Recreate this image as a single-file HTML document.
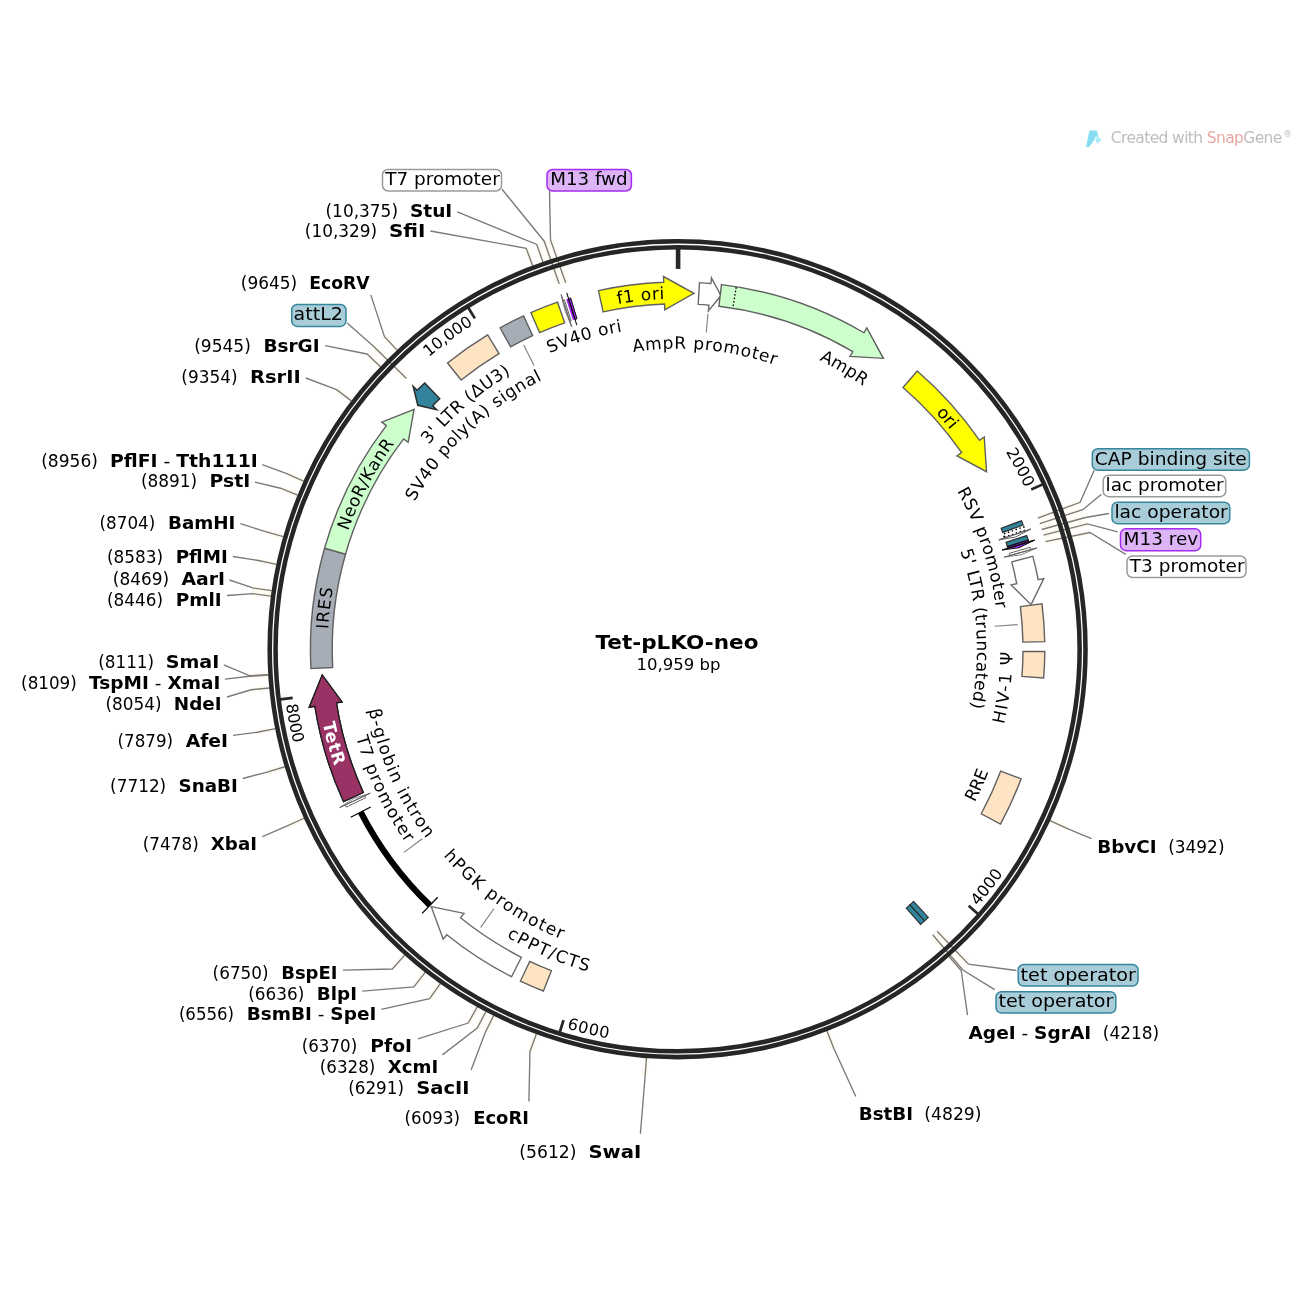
<!DOCTYPE html>
<html lang="en"><head><meta charset="utf-8"><title>Tet-pLKO-neo</title>
<style>html,body{margin:0;padding:0;background:#fff;}svg{display:block;}text{font-family:'DejaVu Sans', Verdana, 'Liberation Sans', sans-serif;}</style></head><body>
<svg width="1300" height="1300" viewBox="0 0 1300 1300">
<rect width="1300" height="1300" fill="#fff"/>
<polyline points="542.87,261.97 536.79,244.50" fill="none" stroke="#fffbf0" stroke-width="5.5" stroke-linecap="butt"/>
<polyline points="532.71,265.66 526.17,248.35" fill="none" stroke="#fffbf0" stroke-width="5.5" stroke-linecap="butt"/>
<polyline points="397.12,350.15 384.47,336.66" fill="none" stroke="#fffbf0" stroke-width="5.5" stroke-linecap="butt"/>
<polyline points="380.45,366.71 367.04,353.97" fill="none" stroke="#fffbf0" stroke-width="5.5" stroke-linecap="butt"/>
<polyline points="351.35,400.88 336.63,389.68" fill="none" stroke="#fffbf0" stroke-width="5.5" stroke-linecap="butt"/>
<polyline points="303.64,481.12 286.76,473.53" fill="none" stroke="#fffbf0" stroke-width="5.5" stroke-linecap="butt"/>
<polyline points="297.63,495.17 280.49,488.22" fill="none" stroke="#fffbf0" stroke-width="5.5" stroke-linecap="butt"/>
<polyline points="283.33,536.71 265.54,531.64" fill="none" stroke="#fffbf0" stroke-width="5.5" stroke-linecap="butt"/>
<polyline points="276.48,564.31 258.38,560.48" fill="none" stroke="#fffbf0" stroke-width="5.5" stroke-linecap="butt"/>
<polyline points="271.80,590.69 253.49,588.05" fill="none" stroke="#fffbf0" stroke-width="5.5" stroke-linecap="butt"/>
<polyline points="271.06,596.05 252.72,593.65" fill="none" stroke="#fffbf0" stroke-width="5.5" stroke-linecap="butt"/>
<polyline points="268.39,674.63 249.93,675.78" fill="none" stroke="#fffbf0" stroke-width="5.5" stroke-linecap="butt"/>
<polyline points="268.42,675.10 249.96,676.27" fill="none" stroke="#fffbf0" stroke-width="5.5" stroke-linecap="butt"/>
<polyline points="269.44,687.99 251.02,689.74" fill="none" stroke="#fffbf0" stroke-width="5.5" stroke-linecap="butt"/>
<polyline points="275.38,728.68 257.23,732.26" fill="none" stroke="#fffbf0" stroke-width="5.5" stroke-linecap="butt"/>
<polyline points="284.82,766.76 267.09,772.07" fill="none" stroke="#fffbf0" stroke-width="5.5" stroke-linecap="butt"/>
<polyline points="304.07,818.25 287.22,825.87" fill="none" stroke="#fffbf0" stroke-width="5.5" stroke-linecap="butt"/>
<polyline points="404.67,955.15 392.35,968.96" fill="none" stroke="#fffbf0" stroke-width="5.5" stroke-linecap="butt"/>
<polyline points="425.23,972.33 413.84,986.91" fill="none" stroke="#fffbf0" stroke-width="5.5" stroke-linecap="butt"/>
<polyline points="440.31,983.56 429.61,998.64" fill="none" stroke="#fffbf0" stroke-width="5.5" stroke-linecap="butt"/>
<polyline points="477.25,1006.91 468.21,1023.05" fill="none" stroke="#fffbf0" stroke-width="5.5" stroke-linecap="butt"/>
<polyline points="485.92,1011.63 477.27,1027.99" fill="none" stroke="#fffbf0" stroke-width="5.5" stroke-linecap="butt"/>
<polyline points="493.65,1015.62 485.35,1032.15" fill="none" stroke="#fffbf0" stroke-width="5.5" stroke-linecap="butt"/>
<polyline points="536.34,1034.10 529.97,1051.46" fill="none" stroke="#fffbf0" stroke-width="5.5" stroke-linecap="butt"/>
<polyline points="646.48,1058.02 645.08,1076.46" fill="none" stroke="#fffbf0" stroke-width="5.5" stroke-linecap="butt"/>
<polyline points="1050.05,820.60 1066.86,828.33" fill="none" stroke="#fffbf0" stroke-width="5.5" stroke-linecap="butt"/>
<polyline points="948.95,956.56 961.20,970.43" fill="none" stroke="#fffbf0" stroke-width="5.5" stroke-linecap="butt"/>
<polyline points="826.99,1031.01 833.73,1048.24" fill="none" stroke="#fffbf0" stroke-width="5.5" stroke-linecap="butt"/>
<polyline points="559.20,283.80 544.20,241.20" fill="none" stroke="#fffbf0" stroke-width="5.5" stroke-linecap="butt"/>
<polyline points="565.70,282.70 550.50,240.00" fill="none" stroke="#fffbf0" stroke-width="5.5" stroke-linecap="butt"/>
<polyline points="406.50,378.50 374.00,346.80" fill="none" stroke="#fffbf0" stroke-width="5.5" stroke-linecap="butt"/>
<polyline points="1037.78,518.10 1080.13,502.29" fill="none" stroke="#fffbf0" stroke-width="5.5" stroke-linecap="butt"/>
<polyline points="1039.76,523.65 1082.75,509.69" fill="none" stroke="#fffbf0" stroke-width="5.5" stroke-linecap="butt"/>
<polyline points="1041.72,529.48 1085.36,517.50" fill="none" stroke="#fffbf0" stroke-width="5.5" stroke-linecap="butt"/>
<polyline points="1043.54,535.15 1087.38,523.92" fill="none" stroke="#fffbf0" stroke-width="5.5" stroke-linecap="butt"/>
<polyline points="1045.49,541.62 1089.91,532.53" fill="none" stroke="#fffbf0" stroke-width="5.5" stroke-linecap="butt"/>
<polyline points="937.10,931.30 968.50,964.20" fill="none" stroke="#fffbf0" stroke-width="5.5" stroke-linecap="butt"/>
<polyline points="932.70,934.70 962.80,970.00" fill="none" stroke="#fffbf0" stroke-width="5.5" stroke-linecap="butt"/>
<polyline points="542.87,261.97 536.79,244.50 457.30,211.80" fill="none" stroke="#7a7a7a" stroke-width="1.35" stroke-linejoin="miter"/>
<polyline points="532.71,265.66 526.17,248.35 430.40,231.00" fill="none" stroke="#7a7a7a" stroke-width="1.35" stroke-linejoin="miter"/>
<polyline points="397.12,350.15 384.47,336.66 370.80,294.90" fill="none" stroke="#7a7a7a" stroke-width="1.35" stroke-linejoin="miter"/>
<polyline points="380.45,366.71 367.04,353.97 325.10,345.70" fill="none" stroke="#7a7a7a" stroke-width="1.35" stroke-linejoin="miter"/>
<polyline points="351.35,400.88 336.63,389.68 305.70,378.00" fill="none" stroke="#7a7a7a" stroke-width="1.35" stroke-linejoin="miter"/>
<polyline points="303.64,481.12 286.76,473.53 262.30,464.60" fill="none" stroke="#7a7a7a" stroke-width="1.35" stroke-linejoin="miter"/>
<polyline points="297.63,495.17 280.49,488.22 254.90,482.20" fill="none" stroke="#7a7a7a" stroke-width="1.35" stroke-linejoin="miter"/>
<polyline points="283.33,536.71 265.54,531.64 240.40,523.70" fill="none" stroke="#7a7a7a" stroke-width="1.35" stroke-linejoin="miter"/>
<polyline points="276.48,564.31 258.38,560.48 232.80,556.50" fill="none" stroke="#7a7a7a" stroke-width="1.35" stroke-linejoin="miter"/>
<polyline points="271.80,590.69 253.49,588.05 229.50,580.00" fill="none" stroke="#7a7a7a" stroke-width="1.35" stroke-linejoin="miter"/>
<polyline points="271.06,596.05 252.72,593.65 227.00,595.50" fill="none" stroke="#7a7a7a" stroke-width="1.35" stroke-linejoin="miter"/>
<polyline points="268.39,674.63 249.93,675.78 223.80,664.90" fill="none" stroke="#7a7a7a" stroke-width="1.35" stroke-linejoin="miter"/>
<polyline points="268.42,675.10 249.96,676.27 224.90,679.20" fill="none" stroke="#7a7a7a" stroke-width="1.35" stroke-linejoin="miter"/>
<polyline points="269.44,687.99 251.02,689.74 227.00,697.00" fill="none" stroke="#7a7a7a" stroke-width="1.35" stroke-linejoin="miter"/>
<polyline points="275.38,728.68 257.23,732.26 233.10,735.30" fill="none" stroke="#7a7a7a" stroke-width="1.35" stroke-linejoin="miter"/>
<polyline points="284.82,766.76 267.09,772.07 242.80,778.50" fill="none" stroke="#7a7a7a" stroke-width="1.35" stroke-linejoin="miter"/>
<polyline points="304.07,818.25 287.22,825.87 262.40,836.60" fill="none" stroke="#7a7a7a" stroke-width="1.35" stroke-linejoin="miter"/>
<polyline points="404.67,955.15 392.35,968.96 343.00,970.10" fill="none" stroke="#7a7a7a" stroke-width="1.35" stroke-linejoin="miter"/>
<polyline points="425.23,972.33 413.84,986.91 362.30,991.20" fill="none" stroke="#7a7a7a" stroke-width="1.35" stroke-linejoin="miter"/>
<polyline points="440.31,983.56 429.61,998.64 381.30,1009.30" fill="none" stroke="#7a7a7a" stroke-width="1.35" stroke-linejoin="miter"/>
<polyline points="477.25,1006.91 468.21,1023.05 417.90,1038.80" fill="none" stroke="#7a7a7a" stroke-width="1.35" stroke-linejoin="miter"/>
<polyline points="485.92,1011.63 477.27,1027.99 442.40,1054.90" fill="none" stroke="#7a7a7a" stroke-width="1.35" stroke-linejoin="miter"/>
<polyline points="493.65,1015.62 485.35,1032.15 471.10,1070.10" fill="none" stroke="#7a7a7a" stroke-width="1.35" stroke-linejoin="miter"/>
<polyline points="536.34,1034.10 529.97,1051.46 528.90,1101.40" fill="none" stroke="#7a7a7a" stroke-width="1.35" stroke-linejoin="miter"/>
<polyline points="646.48,1058.02 645.08,1076.46 640.40,1133.80" fill="none" stroke="#7a7a7a" stroke-width="1.35" stroke-linejoin="miter"/>
<polyline points="1050.05,820.60 1066.86,828.33 1091.40,838.70" fill="none" stroke="#7a7a7a" stroke-width="1.35" stroke-linejoin="miter"/>
<polyline points="948.95,956.56 961.20,970.43 967.50,1015.20" fill="none" stroke="#7a7a7a" stroke-width="1.35" stroke-linejoin="miter"/>
<polyline points="826.99,1031.01 833.73,1048.24 855.80,1096.50" fill="none" stroke="#7a7a7a" stroke-width="1.35" stroke-linejoin="miter"/>
<polyline points="559.20,283.80 544.20,241.20 502.00,189.20" fill="none" stroke="#7a7a7a" stroke-width="1.35" stroke-linejoin="miter"/>
<polyline points="565.70,282.70 550.50,240.00 549.50,191.10" fill="none" stroke="#7a7a7a" stroke-width="1.35" stroke-linejoin="miter"/>
<polyline points="406.50,378.50 374.00,346.80 347.20,323.10" fill="none" stroke="#7a7a7a" stroke-width="1.35" stroke-linejoin="miter"/>
<polyline points="1037.78,518.10 1080.13,502.29 1094.20,470.30" fill="none" stroke="#7a7a7a" stroke-width="1.35" stroke-linejoin="miter"/>
<polyline points="1039.76,523.65 1082.75,509.69 1101.50,494.30" fill="none" stroke="#7a7a7a" stroke-width="1.35" stroke-linejoin="miter"/>
<polyline points="1041.72,529.48 1085.36,517.50 1108.90,513.50" fill="none" stroke="#7a7a7a" stroke-width="1.35" stroke-linejoin="miter"/>
<polyline points="1043.54,535.15 1087.38,523.92 1117.70,531.90" fill="none" stroke="#7a7a7a" stroke-width="1.35" stroke-linejoin="miter"/>
<polyline points="1045.49,541.62 1089.91,532.53 1125.80,554.30" fill="none" stroke="#7a7a7a" stroke-width="1.35" stroke-linejoin="miter"/>
<polyline points="937.10,931.30 968.50,964.20 1016.40,970.50" fill="none" stroke="#7a7a7a" stroke-width="1.35" stroke-linejoin="miter"/>
<polyline points="932.70,934.70 962.80,970.00 994.70,989.60" fill="none" stroke="#7a7a7a" stroke-width="1.35" stroke-linejoin="miter"/>
<circle cx="677.6" cy="649.2" r="407.9" fill="none" stroke="#262626" stroke-width="4.55"/>
<circle cx="677.6" cy="649.2" r="402.05" fill="none" stroke="#262626" stroke-width="4.55"/>
<line x1="678.10" y1="248.70" x2="678.10" y2="268.90" stroke="#262626" stroke-width="4.6"/>
<line x1="1042.62" y1="484.38" x2="1031.22" y2="489.53" stroke="#262626" stroke-width="2.7"/>
<line x1="978.02" y1="914.05" x2="968.65" y2="905.78" stroke="#262626" stroke-width="2.7"/>
<line x1="559.85" y1="1032.00" x2="563.52" y2="1020.05" stroke="#262626" stroke-width="2.7"/>
<line x1="280.26" y1="699.41" x2="292.66" y2="697.84" stroke="#262626" stroke-width="2.7"/>
<line x1="468.32" y1="307.73" x2="474.85" y2="318.39" stroke="#262626" stroke-width="2.7"/>
<path id="tp1" d="M1005.72,451.65 A383.00,383.00 0 0 1 1025.00,487.94" fill="none" stroke="none"/>
<text font-size="16" fill="#000" font-weight="normal" textLength="41.11" lengthAdjust="spacing"><textPath href="#tp1" textLength="41.11" lengthAdjust="spacing">2000</textPath></text>
<path id="tp2" d="M428.73,357.29 A383.60,383.60 0 0 1 473.19,324.60" fill="none" stroke="none"/>
<text font-size="16" fill="#000" font-weight="normal" textLength="55.23" lengthAdjust="spacing"><textPath href="#tp2" textLength="55.23" lengthAdjust="spacing">10,000</textPath></text>
<path id="tp3" d="M977.89,906.12 A395.20,395.20 0 0 0 1003.10,873.33" fill="none" stroke="none"/>
<text font-size="16" fill="#000" font-weight="normal" textLength="41.39" lengthAdjust="spacing"><textPath href="#tp3" textLength="41.39" lengthAdjust="spacing">4000</textPath></text>
<path id="tp4" d="M566.68,1028.52 A395.20,395.20 0 0 0 608.30,1038.28" fill="none" stroke="none"/>
<text font-size="16" fill="#000" font-weight="normal" textLength="42.76" lengthAdjust="spacing"><textPath href="#tp4" textLength="42.76" lengthAdjust="spacing">6000</textPath></text>
<path id="tp5" d="M286.10,704.57 A395.40,395.40 0 0 0 293.61,743.52" fill="none" stroke="none"/>
<text font-size="16" fill="#000" font-weight="normal" textLength="39.68" lengthAdjust="spacing"><textPath href="#tp5" textLength="39.68" lengthAdjust="spacing">8000</textPath></text>
<path d="M603.14,311.92 L598.44,290.63 A367.20,367.20 0 0 1 663.73,282.26 L663.52,276.57 L693.94,293.27 L664.77,309.74 L664.56,304.05 A345.40,345.40 0 0 0 603.14,311.92 Z" fill="#ffff00" stroke="#606060" stroke-width="1.4" stroke-linejoin="miter" stroke-miterlimit="4" />
<path d="M698.18,304.41 L699.48,282.65 A367.20,367.20 0 0 1 710.92,283.52 L711.44,277.84 L721.00,295.55 L708.43,310.90 L708.94,305.23 A345.40,345.40 0 0 0 698.18,304.41 Z" fill="#fff" stroke="#6a6a6a" stroke-width="1.4" stroke-linejoin="miter" stroke-miterlimit="4" />
<path d="M718.89,306.28 L721.50,284.63 A367.20,367.20 0 0 1 863.90,332.77 L866.80,327.86 L883.39,358.34 L849.95,356.47 L852.84,351.56 A345.40,345.40 0 0 0 718.89,306.28 Z" fill="#ccffcc" stroke="#606060" stroke-width="1.4" stroke-linejoin="miter" stroke-miterlimit="4" />
<line x1="736.22" y1="287.22" x2="732.89" y2="307.75" stroke="#000" stroke-width="1.3" stroke-dasharray="1.6,1.9"/>
<path d="M902.99,387.47 L917.21,370.95 A367.20,367.20 0 0 1 979.57,440.28 L984.26,437.04 L986.52,471.67 L956.96,455.93 L961.65,452.68 A345.40,345.40 0 0 0 902.99,387.47 Z" fill="#ffff00" stroke="#606060" stroke-width="1.4" stroke-linejoin="miter" stroke-miterlimit="4" />
<path d="M1020.36,606.58 L1041.99,603.89 A367.20,367.20 0 0 1 1044.72,641.67 L1022.93,642.12 A345.40,345.40 0 0 0 1020.36,606.58 Z" fill="#ffe4c4" stroke="#606060" stroke-width="1.4" stroke-linejoin="miter" />
<path d="M1022.99,651.43 L1044.79,651.57 A367.20,367.20 0 0 1 1043.66,678.07 L1021.93,676.35 A345.40,345.40 0 0 0 1022.99,651.43 Z" fill="#ffe4c4" stroke="#606060" stroke-width="1.4" stroke-linejoin="miter" />
<path d="M1000.76,771.12 L1021.16,778.82 A367.20,367.20 0 0 1 1000.44,824.17 L981.27,813.78 A345.40,345.40 0 0 0 1000.76,771.12 Z" fill="#ffe4c4" stroke="#606060" stroke-width="1.4" stroke-linejoin="miter" />
<path d="M551.38,970.71 L543.41,991.00 A367.20,367.20 0 0 1 520.42,981.06 L529.75,961.36 A345.40,345.40 0 0 0 551.38,970.71 Z" fill="#ffe4c4" stroke="#606060" stroke-width="1.4" stroke-linejoin="miter" />
<path d="M521.40,957.26 L511.54,976.70 A367.20,367.20 0 0 1 446.78,934.78 L443.19,939.21 L431.26,906.62 L464.06,913.39 L460.48,917.83 A345.40,345.40 0 0 0 521.40,957.26 Z" fill="#fff" stroke="#6a6a6a" stroke-width="1.4" stroke-linejoin="miter" stroke-miterlimit="4" />
<path d="M1011.78,561.89 L1032.87,556.37 A367.20,367.20 0 0 1 1038.16,579.67 L1043.75,578.59 L1031.10,604.63 L1011.16,584.88 L1016.75,583.80 A345.40,345.40 0 0 0 1011.78,561.89 Z" fill="#fff" stroke="#6a6a6a" stroke-width="1.4" stroke-linejoin="miter" stroke-miterlimit="4" />
<path d="M332.68,667.46 L310.91,668.61 A367.20,367.20 0 0 1 324.49,548.45 L345.45,554.44 A345.40,345.40 0 0 0 332.68,667.46 Z" fill="#a7adb6" stroke="#606060" stroke-width="1.4" stroke-linejoin="miter" />
<path d="M345.56,554.06 L324.61,548.05 A367.20,367.20 0 0 1 386.32,425.61 L381.80,422.14 L414.08,409.40 L408.13,442.36 L403.61,438.89 A345.40,345.40 0 0 0 345.56,554.06 Z" fill="#ccffcc" stroke="#606060" stroke-width="1.4" stroke-linejoin="miter" stroke-miterlimit="4" />
<path d="M363.33,792.51 L343.50,801.56 A367.20,367.20 0 0 1 314.86,706.26 L309.23,707.14 L322.23,674.97 L342.03,701.99 L336.40,702.87 A345.40,345.40 0 0 0 363.33,792.51 Z" fill="#993366" stroke="#1c1c1c" stroke-width="1.3" stroke-linejoin="miter" stroke-miterlimit="4" />
<path d="M439.73,398.76 L424.72,382.96 A367.20,367.20 0 0 0 417.19,390.31 L413.15,386.30 L417.82,405.35 L436.69,409.70 L432.65,405.68 A345.40,345.40 0 0 1 439.73,398.76 Z" fill="#31849b" stroke="#2b2b2b" stroke-width="1.5" stroke-linejoin="miter" stroke-miterlimit="4" />
<path d="M461.19,380.00 L447.53,363.01 A367.20,367.20 0 0 1 487.70,334.92 L498.98,353.57 A345.40,345.40 0 0 0 461.19,380.00 Z" fill="#ffe4c4" stroke="#606060" stroke-width="1.4" stroke-linejoin="miter" />
<path d="M510.63,346.84 L500.10,327.75 A367.20,367.20 0 0 1 523.57,315.87 L532.71,335.66 A345.40,345.40 0 0 0 510.63,346.84 Z" fill="#a7adb6" stroke="#606060" stroke-width="1.4" stroke-linejoin="miter" />
<path d="M539.58,332.58 L530.87,312.59 A367.20,367.20 0 0 1 557.53,302.18 L564.66,322.79 A345.40,345.40 0 0 0 539.58,332.58 Z" fill="#ffff00" stroke="#606060" stroke-width="1.4" stroke-linejoin="miter" />
<path d="M429.94,905.35 A356.30,356.30 0 0 1 360.72,812.11" fill="none" stroke="#000" stroke-width="6.2"/>
<line x1="437.72" y1="897.30" x2="422.15" y2="913.40" stroke="#000" stroke-width="1.3"/>
<line x1="370.68" y1="806.99" x2="350.76" y2="817.23" stroke="#000" stroke-width="1.3"/>
<path d="M1001.15,528.29 L1021.57,520.66 A367.20,367.20 0 0 1 1023.16,525.01 L1002.65,532.39 A345.40,345.40 0 0 0 1001.15,528.29 Z" fill="#31849b" stroke="#2b2b2b" stroke-width="1.2" stroke-linejoin="miter" />
<path d="M1004.35,537.24 L1003.25,534.06 L1023.80,526.80 L1024.98,530.18 Z" fill="#fff" stroke="#000" stroke-width="1.5" stroke-dasharray="1.5,2.6"/>
<path d="M1030.93,529.04 L1015.77,537.00 L998.93,539.92 Z" fill="#fff" stroke="#666" stroke-width="1.0"/>
<line x1="998.93" y1="539.92" x2="1030.93" y2="529.04" stroke="#666" stroke-width="1.2"/>
<path d="M1006.05,542.31 L1026.78,535.57 A367.20,367.20 0 0 1 1028.18,539.98 L1007.37,546.47 A345.40,345.40 0 0 0 1006.05,542.31 Z" fill="#31849b" stroke="#2b2b2b" stroke-width="1.2" stroke-linejoin="miter" />
<path d="M1034.51,540.14 L1019.14,547.72 L1002.18,550.02 Z" fill="#a020f0" stroke="#111" stroke-width="0.96" stroke-linejoin="round"/>
<path d="M1007.92,548.26 L1007.43,546.66 L1028.24,540.18 L1028.77,541.89 Z" fill="#a020f0" stroke="#111" stroke-width="1.2"/>
<line x1="1002.18" y1="550.02" x2="1034.51" y2="540.14" stroke="#111" stroke-width="1.2"/>
<path d="M1036.80,547.94 L1021.16,554.79 L1004.27,557.11 Z" fill="#fff" stroke="#666" stroke-width="0.8" stroke-linejoin="round"/>
<path d="M1010.04,555.48 L1009.42,553.29 L1030.36,547.24 L1031.03,549.57 Z" fill="#fff" stroke="#666" stroke-width="1.0"/>
<line x1="1004.27" y1="557.11" x2="1036.80" y2="547.94" stroke="#666" stroke-width="1.0"/>
<path d="M913.53,901.47 L928.42,917.39 A367.20,367.20 0 0 1 924.55,920.96 L909.89,904.83 A345.40,345.40 0 0 0 913.53,901.47 Z" fill="#31849b" stroke="#2b2b2b" stroke-width="1.1" stroke-linejoin="miter" />
<path d="M909.89,904.83 L924.55,920.96 A367.20,367.20 0 0 1 920.63,924.47 L906.20,908.13 A345.40,345.40 0 0 0 909.89,904.83 Z" fill="#31849b" stroke="#2b2b2b" stroke-width="1.1" stroke-linejoin="miter" />
<path d="M339.66,807.54 L354.01,798.33 L370.26,793.20 Z" fill="#fff" stroke="#666" stroke-width="0.8" stroke-linejoin="round"/>
<path d="M364.83,795.75 L365.76,797.72 L346.08,807.09 L345.09,805.00 Z" fill="#fff" stroke="#666" stroke-width="1.0"/>
<line x1="370.26" y1="793.20" x2="339.66" y2="807.54" stroke="#666" stroke-width="1.0"/>
<path d="M363.33,792.51 L343.50,801.56 A367.20,367.20 0 0 1 314.86,706.26 L309.23,707.14 L322.23,674.97 L342.03,701.99 L336.40,702.87 A345.40,345.40 0 0 0 363.33,792.51 Z" fill="#993366" stroke="#1c1c1c" stroke-width="1.3" stroke-linejoin="miter" stroke-miterlimit="4" />
<path d="M561.15,294.63 L565.16,311.11 L571.69,326.75 Z" fill="#fff" stroke="#666" stroke-width="0.8" stroke-linejoin="round"/>
<path d="M569.82,321.05 L571.14,320.62 L564.42,299.88 L563.02,300.33 Z" fill="#fff" stroke="#666" stroke-width="1.0"/>
<line x1="571.69" y1="326.75" x2="561.15" y2="294.63" stroke="#666" stroke-width="1.0"/>
<path d="M572.84,320.07 L566.22,299.30 A367.20,367.20 0 0 1 570.65,297.92 L577.00,318.78 A345.40,345.40 0 0 0 572.84,320.07 Z" fill="#a020f0" stroke="none" stroke-width="0" stroke-linejoin="miter" />
<path d="M575.01,319.39 L568.53,298.57 A367.20,367.20 0 0 1 570.65,297.92 L577.00,318.78 A345.40,345.40 0 0 0 575.01,319.39 Z" fill="#a020f0" stroke="#111" stroke-width="1.0" stroke-linejoin="miter" />
<line x1="576.79" y1="325.12" x2="566.75" y2="292.84" stroke="#111" stroke-width="1.1"/>
<line x1="707.95" y1="313.97" x2="706.28" y2="332.50" stroke="#7f7f7f" stroke-width="1.1"/>
<line x1="1017.51" y1="624.65" x2="994.77" y2="626.29" stroke="#7f7f7f" stroke-width="1.1"/>
<line x1="480.68" y1="927.35" x2="493.85" y2="908.74" stroke="#7f7f7f" stroke-width="1.1"/>
<line x1="404.01" y1="852.41" x2="422.31" y2="838.81" stroke="#7f7f7f" stroke-width="1.1"/>
<line x1="523.74" y1="345.11" x2="534.03" y2="365.45" stroke="#7f7f7f" stroke-width="1.1"/>
<path id="tp6" d="M617.67,304.06 A350.30,350.30 0 0 1 664.46,299.15" fill="none" stroke="none"/>
<text font-size="17" fill="#000" font-weight="normal" textLength="47.08" lengthAdjust="spacing"><textPath href="#tp6" textLength="47.08" lengthAdjust="spacing">f1 ori</textPath></text>
<path id="tp7" d="M633.18,352.00 A300.50,300.50 0 0 1 775.19,364.99" fill="none" stroke="none"/>
<text font-size="17" fill="#000" font-weight="normal" textLength="143.97" lengthAdjust="spacing"><textPath href="#tp7" textLength="143.97" lengthAdjust="spacing">AmpR promoter</textPath></text>
<path id="tp8" d="M819.26,360.04 A322.00,322.00 0 0 1 863.21,386.08" fill="none" stroke="none"/>
<text font-size="17" fill="#000" font-weight="normal" textLength="51.14" lengthAdjust="spacing"><textPath href="#tp8" textLength="51.14" lengthAdjust="spacing">AmpR</textPath></text>
<path id="tp9" d="M935.85,412.97 A350.00,350.00 0 0 1 950.37,429.89" fill="none" stroke="none"/>
<text font-size="17" fill="#000" font-weight="normal" textLength="22.30" lengthAdjust="spacing"><textPath href="#tp9" textLength="22.30" lengthAdjust="spacing">ori</textPath></text>
<path id="tp10" d="M956.98,491.13 A321.00,321.00 0 0 1 996.03,608.69" fill="none" stroke="none"/>
<text font-size="17" fill="#000" font-weight="normal" textLength="124.66" lengthAdjust="spacing"><textPath href="#tp10" textLength="124.66" lengthAdjust="spacing">RSV promoter</textPath></text>
<path id="tp11" d="M960.25,550.77 A299.30,299.30 0 0 1 971.10,707.85" fill="none" stroke="none"/>
<text font-size="17" fill="#000" font-weight="normal" textLength="159.32" lengthAdjust="spacing"><textPath href="#tp11" textLength="159.32" lengthAdjust="spacing">5' LTR (truncated)</textPath></text>
<path id="tp12" d="M328.16,629.36 A350.00,350.00 0 0 1 332.97,588.12" fill="none" stroke="none"/>
<text font-size="17" fill="#000" font-weight="normal" textLength="41.54" lengthAdjust="spacing"><textPath href="#tp12" textLength="41.54" lengthAdjust="spacing">IRES</textPath></text>
<path id="tp13" d="M348.19,530.93 A350.00,350.00 0 0 1 394.26,443.72" fill="none" stroke="none"/>
<text font-size="17" fill="#000" font-weight="normal" textLength="98.96" lengthAdjust="spacing"><textPath href="#tp13" textLength="98.96" lengthAdjust="spacing">NeoR/KanR</textPath></text>
<path id="tp14" d="M428.78,444.82 A322.00,322.00 0 0 1 510.80,373.77" fill="none" stroke="none"/>
<text font-size="17" fill="#000" font-weight="normal" textLength="109.03" lengthAdjust="spacing"><textPath href="#tp14" textLength="109.03" lengthAdjust="spacing">3' LTR (ΔU3)</textPath></text>
<path id="tp15" d="M414.67,501.65 A301.50,301.50 0 0 1 542.13,379.85" fill="none" stroke="none"/>
<text font-size="17" fill="#000" font-weight="normal" textLength="178.91" lengthAdjust="spacing"><textPath href="#tp15" textLength="178.91" lengthAdjust="spacing">SV40 poly(A) signal</textPath></text>
<path id="tp16" d="M549.52,353.22 A322.50,322.50 0 0 1 622.15,331.50" fill="none" stroke="none"/>
<text font-size="17" fill="#000" font-weight="normal" textLength="75.99" lengthAdjust="spacing"><textPath href="#tp16" textLength="75.99" lengthAdjust="spacing">SV40 ori</textPath></text>
<path id="tp17" d="M1004.01,724.56 A335.00,335.00 0 0 0 1012.59,652.12" fill="none" stroke="none"/>
<text font-size="17" fill="#000" font-weight="normal" textLength="73.09" lengthAdjust="spacing"><textPath href="#tp17" textLength="73.09" lengthAdjust="spacing">HIV-1 Ψ</textPath></text>
<path id="tp18" d="M974.66,802.53 A334.30,334.30 0 0 0 988.64,771.72" fill="none" stroke="none"/>
<text font-size="17" fill="#000" font-weight="normal" textLength="33.84" lengthAdjust="spacing"><textPath href="#tp18" textLength="33.84" lengthAdjust="spacing">RRE</textPath></text>
<path id="tp19" d="M506.57,936.67 A334.50,334.50 0 0 0 587.93,971.46" fill="none" stroke="none"/>
<text font-size="17" fill="#000" font-weight="normal" textLength="88.74" lengthAdjust="spacing"><textPath href="#tp19" textLength="88.74" lengthAdjust="spacing">cPPT/CTS</textPath></text>
<path id="tp20" d="M443.19,855.86 A312.50,312.50 0 0 0 561.29,939.25" fill="none" stroke="none"/>
<text font-size="17" fill="#000" font-weight="normal" textLength="145.90" lengthAdjust="spacing"><textPath href="#tp20" textLength="145.90" lengthAdjust="spacing">hPGK promoter</textPath></text>
<path id="tp21" d="M368.79,709.79 A314.70,314.70 0 0 0 426.27,838.59" fill="none" stroke="none"/>
<text font-size="17" fill="#000" font-weight="normal" textLength="142.26" lengthAdjust="spacing"><textPath href="#tp21" textLength="142.26" lengthAdjust="spacing">β-globin intron</textPath></text>
<path id="tp22" d="M355.92,737.20 A333.50,333.50 0 0 0 406.09,842.86" fill="none" stroke="none"/>
<text font-size="17" fill="#000" font-weight="normal" textLength="117.58" lengthAdjust="spacing"><textPath href="#tp22" textLength="117.58" lengthAdjust="spacing">T7 promoter</textPath></text>
<path id="tp23" d="M322.70,723.02 A362.50,362.50 0 0 0 334.44,766.02" fill="none" stroke="none"/>
<text font-size="17" fill="#fff" font-weight="bold" textLength="44.60" lengthAdjust="spacing"><textPath href="#tp23" textLength="44.60" lengthAdjust="spacing">TetR</textPath></text>
<text x="409.90" y="216.90" text-anchor="start" font-weight="bold" font-size="17" fill="#000" textLength="42.40" lengthAdjust="spacingAndGlyphs" >StuI</text>
<text x="325.50" y="216.90" text-anchor="start" font-weight="normal" font-size="17" fill="#000" textLength="72.50" lengthAdjust="spacingAndGlyphs" >(10,375)</text>
<text x="388.90" y="237.20" text-anchor="start" font-weight="bold" font-size="17" fill="#000" textLength="36.40" lengthAdjust="spacingAndGlyphs" >SfiI</text>
<text x="304.80" y="237.20" text-anchor="start" font-weight="normal" font-size="17" fill="#000" textLength="72.40" lengthAdjust="spacingAndGlyphs" >(10,329)</text>
<text x="309.30" y="289.20" text-anchor="start" font-weight="bold" font-size="17" fill="#000" textLength="60.40" lengthAdjust="spacingAndGlyphs" >EcoRV</text>
<text x="240.80" y="289.20" text-anchor="start" font-weight="normal" font-size="17" fill="#000" textLength="56.40" lengthAdjust="spacingAndGlyphs" >(9645)</text>
<text x="263.40" y="351.90" text-anchor="start" font-weight="bold" font-size="17" fill="#000" textLength="56.20" lengthAdjust="spacingAndGlyphs" >BsrGI</text>
<text x="194.20" y="351.90" text-anchor="start" font-weight="normal" font-size="17" fill="#000" textLength="56.60" lengthAdjust="spacingAndGlyphs" >(9545)</text>
<text x="250.00" y="382.60" text-anchor="start" font-weight="bold" font-size="17" fill="#000" textLength="50.70" lengthAdjust="spacingAndGlyphs" >RsrII</text>
<text x="181.30" y="382.60" text-anchor="start" font-weight="normal" font-size="17" fill="#000" textLength="56.30" lengthAdjust="spacingAndGlyphs" >(9354)</text>
<text x="109.90" y="466.50" text-anchor="start" font-weight="bold" font-size="17" fill="#000" textLength="147.90" lengthAdjust="spacingAndGlyphs" >PflFI<tspan font-weight="normal"> - </tspan>Tth111I</text>
<text x="41.20" y="466.50" text-anchor="start" font-weight="normal" font-size="17" fill="#000" textLength="56.80" lengthAdjust="spacingAndGlyphs" >(8956)</text>
<text x="209.60" y="487.20" text-anchor="start" font-weight="bold" font-size="17" fill="#000" textLength="40.80" lengthAdjust="spacingAndGlyphs" >PstI</text>
<text x="140.90" y="487.20" text-anchor="start" font-weight="normal" font-size="17" fill="#000" textLength="56.30" lengthAdjust="spacingAndGlyphs" >(8891)</text>
<text x="168.00" y="528.80" text-anchor="start" font-weight="bold" font-size="17" fill="#000" textLength="67.40" lengthAdjust="spacingAndGlyphs" >BamHI</text>
<text x="99.60" y="528.80" text-anchor="start" font-weight="normal" font-size="17" fill="#000" textLength="55.60" lengthAdjust="spacingAndGlyphs" >(8704)</text>
<text x="175.70" y="562.70" text-anchor="start" font-weight="bold" font-size="17" fill="#000" textLength="52.10" lengthAdjust="spacingAndGlyphs" >PflMI</text>
<text x="107.00" y="562.70" text-anchor="start" font-weight="normal" font-size="17" fill="#000" textLength="56.10" lengthAdjust="spacingAndGlyphs" >(8583)</text>
<text x="181.40" y="585.10" text-anchor="start" font-weight="bold" font-size="17" fill="#000" textLength="43.60" lengthAdjust="spacingAndGlyphs" >AarI</text>
<text x="112.80" y="585.10" text-anchor="start" font-weight="normal" font-size="17" fill="#000" textLength="56.30" lengthAdjust="spacingAndGlyphs" >(8469)</text>
<text x="175.70" y="605.80" text-anchor="start" font-weight="bold" font-size="17" fill="#000" textLength="45.90" lengthAdjust="spacingAndGlyphs" >PmlI</text>
<text x="107.00" y="605.80" text-anchor="start" font-weight="normal" font-size="17" fill="#000" textLength="56.10" lengthAdjust="spacingAndGlyphs" >(8446)</text>
<text x="165.70" y="668.20" text-anchor="start" font-weight="bold" font-size="17" fill="#000" textLength="53.60" lengthAdjust="spacingAndGlyphs" >SmaI</text>
<text x="98.20" y="668.20" text-anchor="start" font-weight="normal" font-size="17" fill="#000" textLength="55.90" lengthAdjust="spacingAndGlyphs" >(8111)</text>
<text x="89.10" y="688.90" text-anchor="start" font-weight="bold" font-size="17" fill="#000" textLength="131.30" lengthAdjust="spacingAndGlyphs" >TspMI<tspan font-weight="normal"> - </tspan>XmaI</text>
<text x="21.10" y="688.90" text-anchor="start" font-weight="normal" font-size="17" fill="#000" textLength="55.70" lengthAdjust="spacingAndGlyphs" >(8109)</text>
<text x="173.80" y="709.70" text-anchor="start" font-weight="bold" font-size="17" fill="#000" textLength="47.80" lengthAdjust="spacingAndGlyphs" >NdeI</text>
<text x="105.40" y="709.70" text-anchor="start" font-weight="normal" font-size="17" fill="#000" textLength="56.10" lengthAdjust="spacingAndGlyphs" >(8054)</text>
<text x="185.70" y="746.80" text-anchor="start" font-weight="bold" font-size="17" fill="#000" textLength="42.40" lengthAdjust="spacingAndGlyphs" >AfeI</text>
<text x="117.50" y="746.80" text-anchor="start" font-weight="normal" font-size="17" fill="#000" textLength="55.60" lengthAdjust="spacingAndGlyphs" >(7879)</text>
<text x="178.50" y="791.80" text-anchor="start" font-weight="bold" font-size="17" fill="#000" textLength="59.30" lengthAdjust="spacingAndGlyphs" >SnaBI</text>
<text x="110.10" y="791.80" text-anchor="start" font-weight="normal" font-size="17" fill="#000" textLength="56.10" lengthAdjust="spacingAndGlyphs" >(7712)</text>
<text x="210.80" y="850.00" text-anchor="start" font-weight="bold" font-size="17" fill="#000" textLength="46.20" lengthAdjust="spacingAndGlyphs" >XbaI</text>
<text x="142.80" y="850.00" text-anchor="start" font-weight="normal" font-size="17" fill="#000" textLength="55.90" lengthAdjust="spacingAndGlyphs" >(7478)</text>
<text x="281.20" y="978.90" text-anchor="start" font-weight="bold" font-size="17" fill="#000" textLength="56.20" lengthAdjust="spacingAndGlyphs" >BspEI</text>
<text x="212.60" y="978.90" text-anchor="start" font-weight="normal" font-size="17" fill="#000" textLength="56.00" lengthAdjust="spacingAndGlyphs" >(6750)</text>
<text x="316.80" y="999.90" text-anchor="start" font-weight="bold" font-size="17" fill="#000" textLength="40.20" lengthAdjust="spacingAndGlyphs" >BlpI</text>
<text x="248.20" y="999.90" text-anchor="start" font-weight="normal" font-size="17" fill="#000" textLength="56.10" lengthAdjust="spacingAndGlyphs" >(6636)</text>
<text x="246.70" y="1020.40" text-anchor="start" font-weight="bold" font-size="17" fill="#000" textLength="129.60" lengthAdjust="spacingAndGlyphs" >BsmBI<tspan font-weight="normal"> - </tspan>SpeI</text>
<text x="178.90" y="1020.40" text-anchor="start" font-weight="normal" font-size="17" fill="#000" textLength="55.20" lengthAdjust="spacingAndGlyphs" >(6556)</text>
<text x="370.30" y="1052.00" text-anchor="start" font-weight="bold" font-size="17" fill="#000" textLength="41.70" lengthAdjust="spacingAndGlyphs" >PfoI</text>
<text x="301.70" y="1052.00" text-anchor="start" font-weight="normal" font-size="17" fill="#000" textLength="55.50" lengthAdjust="spacingAndGlyphs" >(6370)</text>
<text x="387.80" y="1073.00" text-anchor="start" font-weight="bold" font-size="17" fill="#000" textLength="50.50" lengthAdjust="spacingAndGlyphs" >XcmI</text>
<text x="319.80" y="1073.00" text-anchor="start" font-weight="normal" font-size="17" fill="#000" textLength="55.50" lengthAdjust="spacingAndGlyphs" >(6328)</text>
<text x="416.20" y="1093.50" text-anchor="start" font-weight="bold" font-size="17" fill="#000" textLength="53.30" lengthAdjust="spacingAndGlyphs" >SacII</text>
<text x="348.20" y="1093.50" text-anchor="start" font-weight="normal" font-size="17" fill="#000" textLength="55.80" lengthAdjust="spacingAndGlyphs" >(6291)</text>
<text x="473.20" y="1124.20" text-anchor="start" font-weight="bold" font-size="17" fill="#000" textLength="55.70" lengthAdjust="spacingAndGlyphs" >EcoRI</text>
<text x="404.60" y="1124.20" text-anchor="start" font-weight="normal" font-size="17" fill="#000" textLength="55.50" lengthAdjust="spacingAndGlyphs" >(6093)</text>
<text x="588.40" y="1157.70" text-anchor="start" font-weight="bold" font-size="17" fill="#000" textLength="52.80" lengthAdjust="spacingAndGlyphs" >SwaI</text>
<text x="519.30" y="1157.70" text-anchor="start" font-weight="normal" font-size="17" fill="#000" textLength="57.20" lengthAdjust="spacingAndGlyphs" >(5612)</text>
<text x="1097.20" y="853.10" text-anchor="start" font-weight="bold" font-size="17" fill="#000" textLength="59.40" lengthAdjust="spacingAndGlyphs" >BbvCI</text>
<text x="1168.20" y="853.10" text-anchor="start" font-weight="normal" font-size="17" fill="#000" textLength="56.30" lengthAdjust="spacingAndGlyphs" >(3492)</text>
<text x="968.50" y="1038.80" text-anchor="start" font-weight="bold" font-size="17" fill="#000" textLength="122.70" lengthAdjust="spacingAndGlyphs" >AgeI<tspan font-weight="normal"> - </tspan>SgrAI</text>
<text x="1102.80" y="1038.80" text-anchor="start" font-weight="normal" font-size="17" fill="#000" textLength="56.30" lengthAdjust="spacingAndGlyphs" >(4218)</text>
<text x="858.80" y="1120.40" text-anchor="start" font-weight="bold" font-size="17" fill="#000" textLength="54.30" lengthAdjust="spacingAndGlyphs" >BstBI</text>
<text x="924.30" y="1120.40" text-anchor="start" font-weight="normal" font-size="17" fill="#000" textLength="57.20" lengthAdjust="spacingAndGlyphs" >(4829)</text>
<rect x="382.50" y="169.50" width="119.00" height="21.50" rx="5.5" ry="5.5" fill="#ffffff" stroke="#9a9a9a" stroke-width="1.5"/>
<text x="385.20" y="185.30" text-anchor="start" font-weight="normal" font-size="17" fill="#000" textLength="114.60" lengthAdjust="spacingAndGlyphs" >T7 promoter</text>
<rect x="547.00" y="169.50" width="84.40" height="21.50" rx="5.5" ry="5.5" fill="#ddb5f7" stroke="#a32cf0" stroke-width="1.5"/>
<text x="550.20" y="185.30" text-anchor="start" font-weight="normal" font-size="17" fill="#000" textLength="77.40" lengthAdjust="spacingAndGlyphs" >M13 fwd</text>
<rect x="291.70" y="304.50" width="54.30" height="21.90" rx="5.5" ry="5.5" fill="#a9cdd8" stroke="#36879d" stroke-width="1.5"/>
<text x="293.60" y="320.30" text-anchor="start" font-weight="normal" font-size="17" fill="#000" textLength="49.30" lengthAdjust="spacingAndGlyphs" >attL2</text>
<rect x="1092.30" y="448.70" width="157.10" height="21.50" rx="5.5" ry="5.5" fill="#a9cdd8" stroke="#36879d" stroke-width="1.5"/>
<text x="1094.80" y="464.50" text-anchor="start" font-weight="normal" font-size="17" fill="#000" textLength="152.00" lengthAdjust="spacingAndGlyphs" >CAP binding site</text>
<rect x="1103.20" y="475.20" width="122.50" height="21.50" rx="5.5" ry="5.5" fill="#ffffff" stroke="#9a9a9a" stroke-width="1.5"/>
<text x="1105.60" y="491.10" text-anchor="start" font-weight="normal" font-size="17" fill="#000" textLength="118.10" lengthAdjust="spacingAndGlyphs" >lac promoter</text>
<rect x="1112.00" y="502.20" width="117.80" height="21.50" rx="5.5" ry="5.5" fill="#a9cdd8" stroke="#36879d" stroke-width="1.5"/>
<text x="1114.40" y="518.10" text-anchor="start" font-weight="normal" font-size="17" fill="#000" textLength="113.40" lengthAdjust="spacingAndGlyphs" >lac operator</text>
<rect x="1120.50" y="528.80" width="80.20" height="21.90" rx="5.5" ry="5.5" fill="#ddb5f7" stroke="#a32cf0" stroke-width="1.5"/>
<text x="1123.60" y="544.60" text-anchor="start" font-weight="normal" font-size="17" fill="#000" textLength="74.70" lengthAdjust="spacingAndGlyphs" >M13 rev</text>
<rect x="1127.00" y="556.00" width="119.00" height="21.50" rx="5.5" ry="5.5" fill="#ffffff" stroke="#9a9a9a" stroke-width="1.5"/>
<text x="1129.80" y="571.80" text-anchor="start" font-weight="normal" font-size="17" fill="#000" textLength="114.70" lengthAdjust="spacingAndGlyphs" >T3 promoter</text>
<rect x="1018.20" y="964.50" width="119.80" height="21.60" rx="5.5" ry="5.5" fill="#a9cdd8" stroke="#36879d" stroke-width="1.5"/>
<text x="1020.60" y="980.50" text-anchor="start" font-weight="normal" font-size="17" fill="#000" textLength="115.30" lengthAdjust="spacingAndGlyphs" >tet operator</text>
<rect x="996.00" y="991.70" width="119.80" height="21.40" rx="5.5" ry="5.5" fill="#a9cdd8" stroke="#36879d" stroke-width="1.5"/>
<text x="998.40" y="1007.40" text-anchor="start" font-weight="normal" font-size="17" fill="#000" textLength="115.00" lengthAdjust="spacingAndGlyphs" >tet operator</text>
<text x="677.00" y="648.90" text-anchor="middle" font-weight="bold" font-size="20" fill="#000" textLength="163.00" lengthAdjust="spacingAndGlyphs" >Tet-pLKO-neo</text>
<text x="678.60" y="669.60" text-anchor="middle" font-weight="normal" font-size="16" fill="#000" textLength="84.00" lengthAdjust="spacingAndGlyphs" >10,959 bp</text>
<path d="M1089.5,130.5 L1096.1,130.5 L1097.1,132.6 L1094.8,138.9 L1089.2,146.9 L1086.0,146.9 L1087.6,138.9 Z" fill="#86dcf2"/>
<path d="M1096.0,130.6 L1097.6,132.6 L1098.4,137.6 L1096.7,138.0 L1095.9,134.6 Z" fill="#8fe0f4"/>
<path d="M1098.0,137.3 L1101.6,139.4 L1097.5,143.8 L1095.1,139.8 Z" fill="#a6ebf9"/>
<text x="1110.8" y="143.3" font-size="15.5" font-family="'Liberation Sans', Arial, sans-serif" fill="#bdbdbd" textLength="171.5" lengthAdjust="spacing">Created with <tspan fill="#e8a7a2">Snap</tspan>Gene</text>
<text x="1283.0" y="137.0" font-size="9" font-family="'Liberation Sans', Arial, sans-serif" fill="#bdbdbd">®</text>
</svg></body></html>
